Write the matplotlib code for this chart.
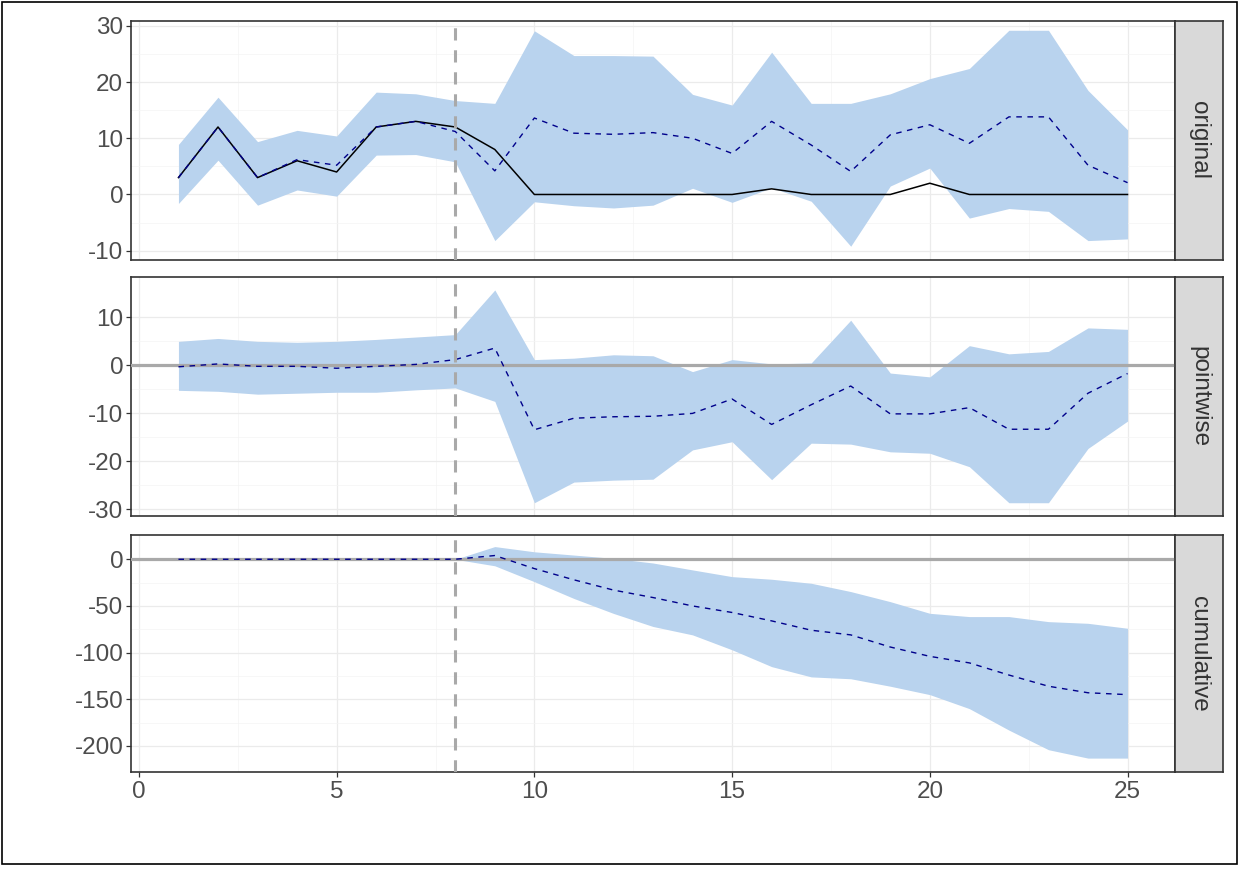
import matplotlib
matplotlib.use("Agg")
import matplotlib.pyplot as plt
from matplotlib.patches import Rectangle
import numpy as np

plt.rcParams['font.family'] = ['Liberation Sans', 'DejaVu Sans']
plt.rcParams['axes.unicode_minus'] = False

# ---------------- data ----------------
time = list(range(1, 26))
intervention = 8

actual = [3, 12, 3, 6, 4, 12, 13, 12, 8, 0, 0, 0, 0, 0, 0, 1, 0, 0, 0, 2, 0, 0, 0, 0, 0]
pred = [3, 12, 3, 6.2, 5.2, 12, 13, 11.2, 4.2, 13.6, 10.9, 10.7, 11.0, 10.0, 7.3,
        13.0, 8.8, 4.1, 10.6, 12.4, 9.1, 13.8, 13.8, 5.2, 2.1]
pred_upper = [8.9, 17.3, 9.4, 11.4, 10.4, 18.2, 17.9, 16.7, 16.2, 29.1, 24.7, 24.7, 24.6,
              17.8, 15.9, 25.3, 16.2, 16.2, 17.9, 20.6, 22.4, 29.2, 29.2, 18.5, 11.5]
pred_lower = [-1.6, 6.1, -1.9, 0.8, -0.3, 7.0, 7.1, 5.8, -8.2, -1.3, -2.0, -2.4, -1.9,
              1.1, -1.4, 1.2, -1.2, -9.2, 1.5, 4.7, -4.2, -2.5, -3.0, -8.2, -7.9]

point = [-0.3, 0.3, -0.2, -0.2, -0.6, -0.2, 0.2, 1.2, 3.6, -13.4, -11.0, -10.7, -10.6,
         -10.0, -7.0, -12.3, -8.2, -4.3, -10.1, -10.1, -8.8, -13.3, -13.3, -5.8, -1.7]
point_upper = [5.0, 5.6, 5.0, 4.8, 5.0, 5.4, 5.9, 6.4, 15.7, 1.2, 1.5, 2.2, 2.0,
               -1.3, 1.2, 0.3, 0.5, 9.4, -1.6, -2.4, 4.1, 2.4, 2.9, 7.8, 7.5]
point_lower = [-5.2, -5.4, -6.0, -5.8, -5.6, -5.6, -5.1, -4.7, -7.5, -28.6, -24.3, -23.9, -23.7,
               -17.6, -15.9, -23.8, -16.2, -16.4, -18.0, -18.3, -21.1, -28.6, -28.6, -17.3, -11.6]

cum = [0, 0, 0, 0, 0, 0, 0, 0, 4, -10, -22, -33, -41, -50, -57, -66, -76, -81, -94,
       -104, -111, -124, -136, -143, -145]
cum_upper = [0, 0, 0, 0, 0, 0, 0, 0, 13.6, 8, 4.5, 1, -4, -11.4, -18.6, -21.4, -25.7,
             -34.6, -45.4, -57.9, -61.4, -61.4, -66.8, -68.6, -73.9]
cum_lower = [0, 0, 0, 0, 0, 0, 0, 0, -7, -24, -42, -58, -72, -81, -97, -115, -126,
             -128, -136, -145, -160, -183, -204, -213, -213]

panel_names = ["original", "pointwise", "cumulative"]
y_ticks = [[-10, 0, 10, 20, 30], [-30, -20, -10, 0, 10], [-200, -150, -100, -50, 0]]
y_limits = [(-11.65, 30.9), (-31.3, 18.46), (-228.2, 26.0)]
x_ticks = [0, 5, 10, 15, 20, 25]

# ---------------- layout ----------------
W, H = 1248, 875
fig = plt.figure(figsize=(W / 100, H / 100), dpi=100)
fig.patch.set_facecolor("white")

left_px, right_px = 131, 1175
strip_right = 1223
rows = [(20.7, 260.0), (276.7, 515.7), (535.0, 772.3)]

FILL = "#B9D3EE"
DARKBLUE = "#00008B"
DARKGREY = "#A9A9A9"
TXT = "#4D4D4D"
BORDER = "#333333"

series = [
    (pred, pred_upper, pred_lower, actual),
    (point, point_upper, point_lower, None),
    (cum, cum_upper, cum_lower, None),
]

axes = []
for i, (top, bot) in enumerate(rows):
    ax = fig.add_axes([left_px / W, 1 - bot / H, (right_px - left_px) / W, (bot - top) / H])
    axes.append(ax)
    mid, up, lo, act = series[i]
    ax.fill_between(time, lo, up, color=FILL, linewidth=0, zorder=2)
    if act is not None:
        ax.plot(time, act, color="black", linewidth=1.1, zorder=3)
    else:
        ax.axhline(0, color=DARKGREY, linewidth=2.3, zorder=3)
    ax.plot(time, mid, color=DARKBLUE, linewidth=1.0, linestyle=(0, (4, 4)), zorder=4)
    ax.axvline(intervention, color=DARKGREY, linewidth=2.2, linestyle=(0, (4, 3.2)), zorder=5)

    ax.set_xlim(-0.2, 26.2)
    ax.set_ylim(*y_limits[i])
    ax.set_xticks(x_ticks)
    ax.set_xticks([2.5, 7.5, 12.5, 17.5, 22.5], minor=True)
    yt = y_ticks[i]
    ax.set_yticks(yt)
    ax.set_yticks([(yt[k] + yt[k + 1]) / 2 for k in range(len(yt) - 1)], minor=True)
    ax.grid(which="major", color="#EBEBEB", linewidth=0.9, zorder=0)
    ax.grid(which="minor", color="#F4F4F4", linewidth=0.5, zorder=0)
    ax.set_axisbelow(True)
    for s in ax.spines.values():
        s.set_color(BORDER)
        s.set_linewidth(1.2)
    ax.tick_params(axis="both", which="major", length=3.5, width=0.9, color=BORDER,
                   labelsize=17.5, labelcolor=TXT, pad=2)
    ax.tick_params(axis="both", which="minor", length=0)
    if i < 2:
        ax.tick_params(axis="x", which="major", labelbottom=False, length=0)
    else:
        ax.tick_params(axis="x", which="major", pad=3)

    # strip
    sax = fig.add_axes([right_px / W, 1 - bot / H, (strip_right - right_px) / W, (bot - top) / H])
    sax.set_facecolor("#D9D9D9")
    sax.set_xticks([])
    sax.set_yticks([])
    for s in sax.spines.values():
        s.set_color(BORDER)
        s.set_linewidth(1.2)
    sax.text(0.5, 0.5, panel_names[i], rotation=270, ha="center", va="center",
             fontsize=17.5, color="#333333", transform=sax.transAxes)

# outer frame
fig.patches.append(Rectangle((2 / W, 1 - 864 / H), (1237 - 2) / W, (864 - 2) / H,
                             transform=fig.transFigure, fill=False,
                             edgecolor="black", linewidth=1.2))

fig.savefig("out.png", dpi=100)
